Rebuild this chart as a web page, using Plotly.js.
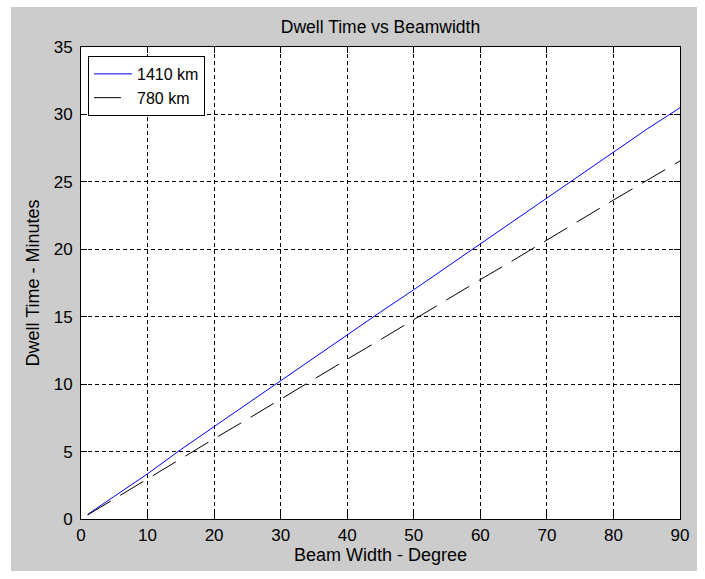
<!DOCTYPE html>
<html>
<head>
<meta charset="utf-8">
<script src="https://cdn.plot.ly/plotly-3.0.1.min.js"></script>
<style>
  html, body { margin: 0; padding: 0; background: #ffffff; }
  #chart { position: absolute; left: 11px; top: 7px; width: 686px; height: 564px; }
</style>
</head>
<body>
<div id="chart"></div>
<script>
// Beam width in degrees
const beamWidth = [1, 5, 10, 15, 20, 25, 30, 35, 40, 45, 50, 55, 60, 65, 70, 75, 80, 85, 90];
// Dwell time in minutes, 1410 km orbit
const dwell1410 = [0.34, 1.7, 3.35, 5.15, 6.85, 8.6, 10.3, 11.95, 13.65, 15.35, 17.0, 18.7, 20.4, 22.1, 23.8, 25.5, 27.2, 28.9, 30.5];
// Dwell time in minutes, 780 km orbit
const dwell780 = [0.3, 1.5, 2.95, 4.45, 5.95, 7.4, 8.9, 10.35, 11.85, 13.3, 14.8, 16.3, 17.75, 19.2, 20.7, 22.2, 23.65, 25.1, 26.55];

const FONT = '"Liberation Sans", Arial, sans-serif';

const traces = [
  {
    x: beamWidth, y: dwell1410, name: '1410 km', type: 'scatter', mode: 'lines',
    line: { color: '#0000ff', width: 1 }
  },
  {
    x: beamWidth, y: dwell780, name: '780 km', type: 'scatter', mode: 'lines',
    line: { color: '#000000', width: 1, dash: '27px,11px' }
  }
];

const axisCommon = {
  showline: true, linecolor: '#000000', linewidth: 1, mirror: 'ticks',
  ticks: 'inside', ticklen: 6, tickwidth: 1, tickcolor: '#000000',
  showgrid: true, gridcolor: '#000000', gridwidth: 1, griddash: '4px,3px',
  zeroline: false, tickfont: { family: FONT, size: 17, color: '#000000' }
};

const layout = {
  width: 686, height: 564,
  paper_bgcolor: '#cccccc', plot_bgcolor: '#ffffff',
  margin: { l: 70, r: 17, t: 40, b: 52 },
  font: { family: FONT, size: 17, color: '#000000' },
  title: {
    text: 'Dwell Time vs Beamwidth',
    font: { family: FONT, size: 17.5, color: '#000000' },
    x: 0.5, xref: 'paper', xanchor: 'center',
    y: 0.964, yref: 'container', yanchor: 'middle'
  },
  xaxis: Object.assign({}, axisCommon, {
    range: [0, 90], dtick: 10, tick0: 0, ticklabelstandoff: 1,
    title: { text: 'Beam Width - Degree', font: { family: FONT, size: 18, color: '#000000' }, standoff: 1 }
  }),
  yaxis: Object.assign({}, axisCommon, {
    range: [0, 35], dtick: 5, tick0: 0, ticklabelstandoff: 4,
    title: { text: 'Dwell Time - Minutes', font: { family: FONT, size: 18, color: '#000000' }, standoff: 9 }
  }),
  showlegend: true,
  legend: {
    x: 0.0117, y: 0.981, xanchor: 'left', yanchor: 'top',
    bgcolor: '#ffffff', bordercolor: '#000000', borderwidth: 1,
    itemwidth: 38, tracegroupgap: 0,
    font: { family: FONT, size: 16, color: '#000000' }
  }
};

Plotly.newPlot('chart', traces, layout, { staticPlot: true, displayModeBar: false });
</script>
</body>
</html>
